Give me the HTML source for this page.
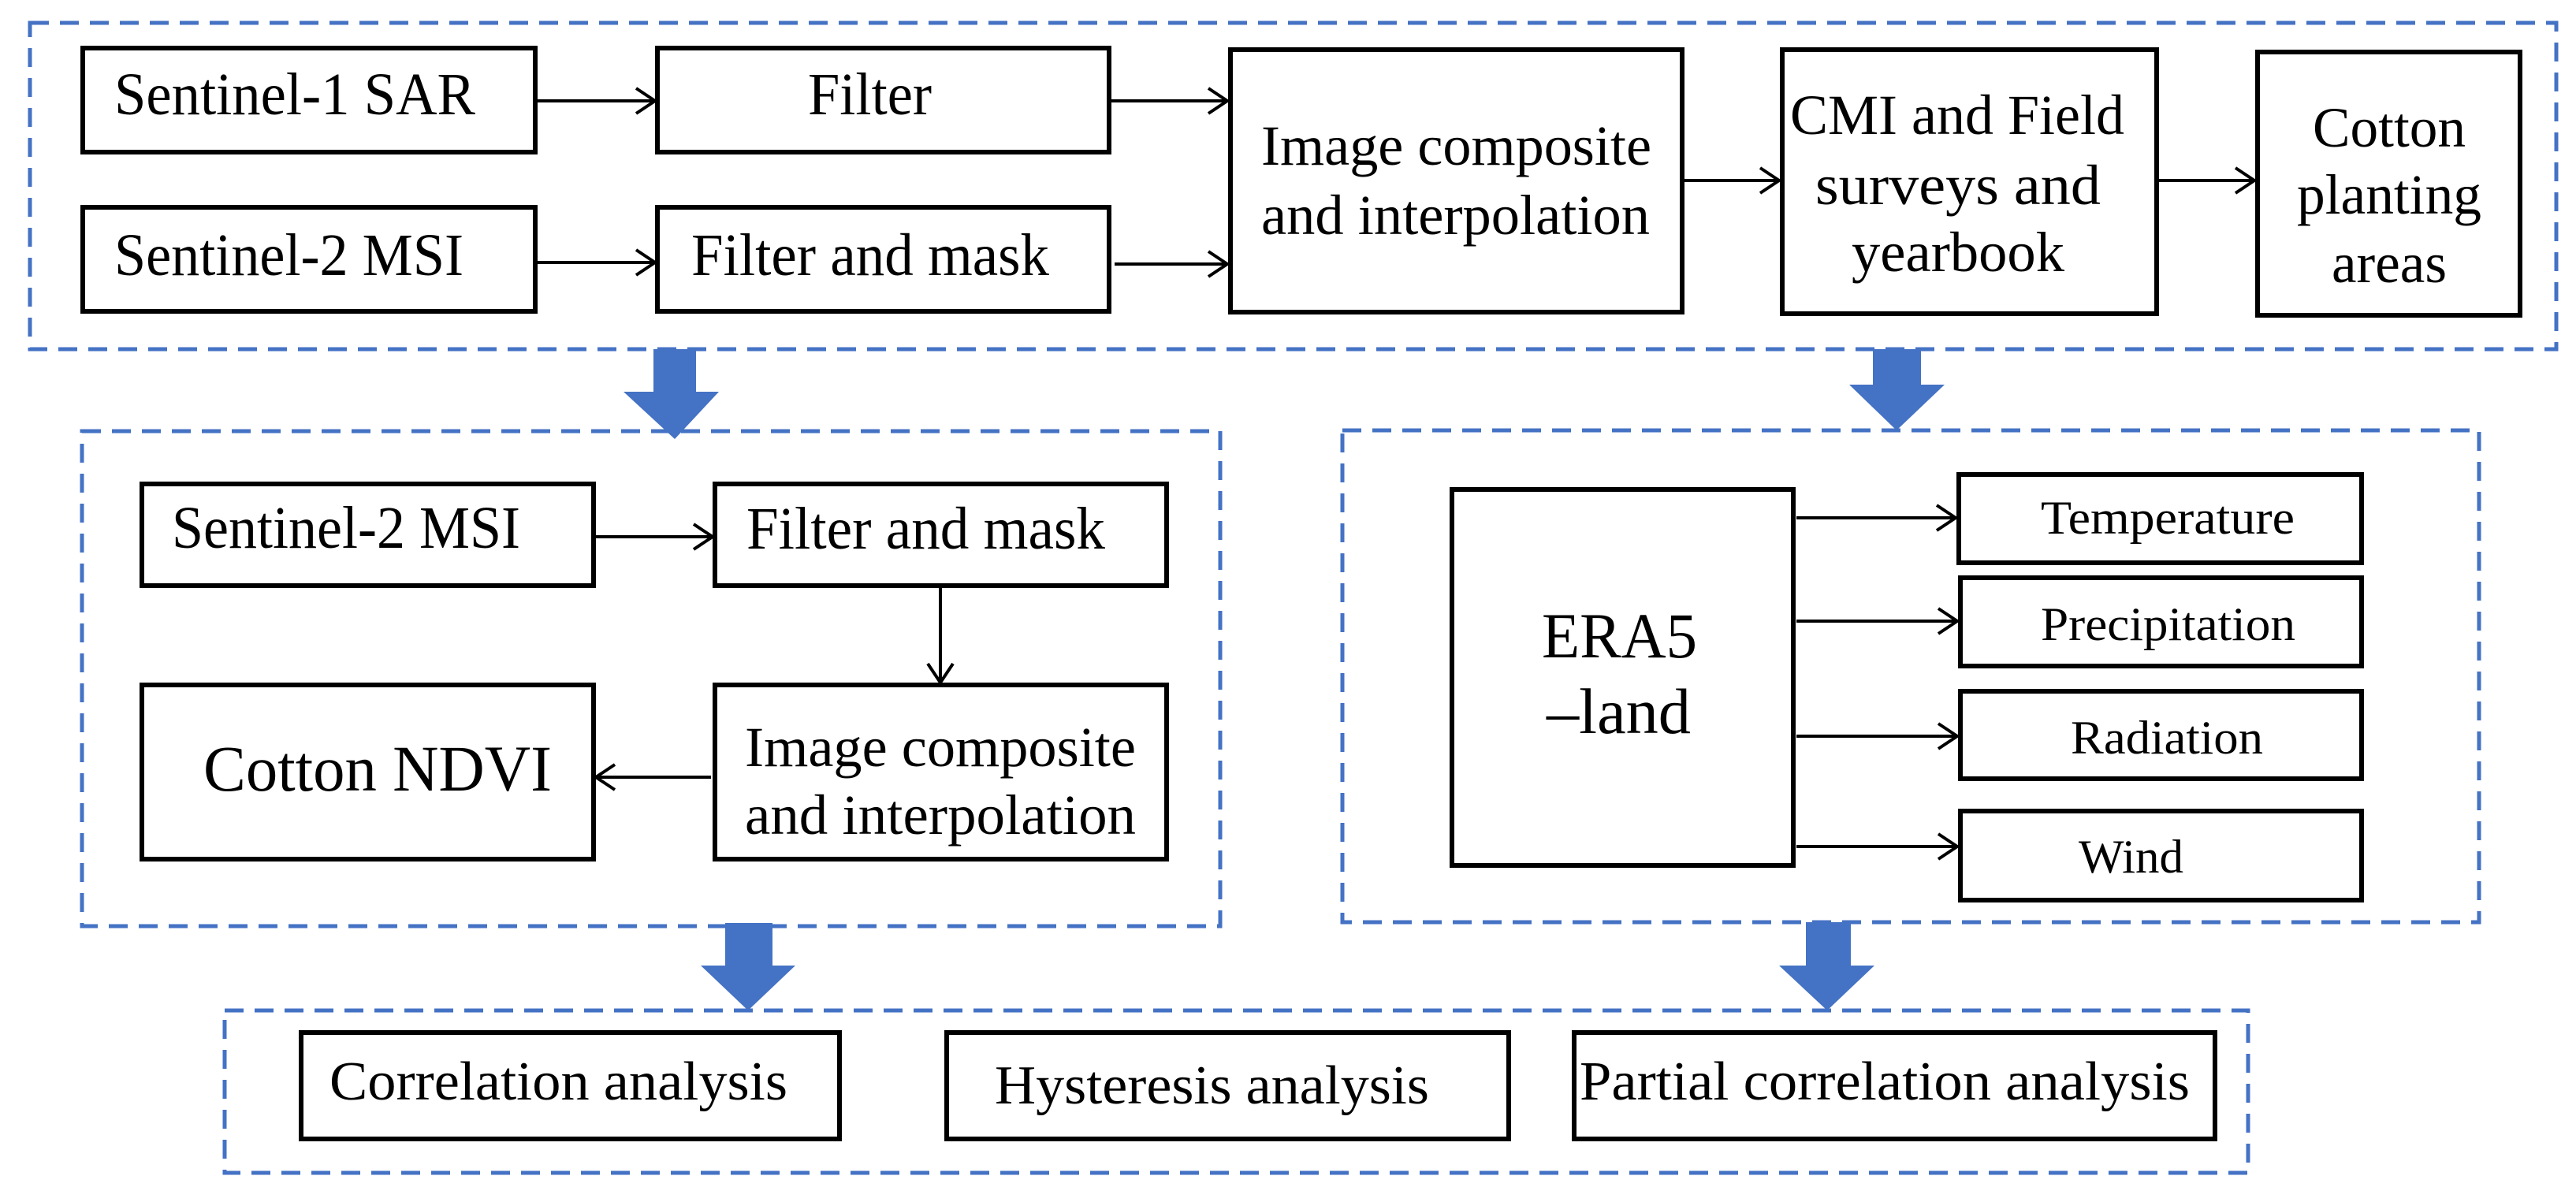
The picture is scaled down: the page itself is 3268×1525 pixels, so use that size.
<!DOCTYPE html>
<html><head><meta charset="utf-8"><style>
html,body{margin:0;padding:0;background:#fff;}
svg{display:block}
svg text{font-family:"Liberation Serif","Times New Roman",serif !important;fill:#000;}
</style></head><body>
<svg width="3268" height="1525" viewBox="0 0 3268 1525" xmlns="http://www.w3.org/2000/svg" font-family="'Liberation Serif', serif">
<defs>
<marker id="ah" markerWidth="40" markerHeight="40" refX="30" refY="20" orient="auto" markerUnits="userSpaceOnUse">
<path d="M6,4 L30,20 L6,36" fill="none" stroke="#000" stroke-width="4"/>
</marker>
</defs>
<g fill="none" stroke="#4472C4" stroke-width="5" stroke-dasharray="24,14">
<rect x="38" y="29" width="3205" height="414"/>
<rect x="104" y="547" width="1444" height="628"/>
<rect x="1703" y="546" width="1442" height="624"/>
<rect x="285" y="1282" width="2567" height="206"/>
</g>
<g fill="#4472C4">
<polygon points="829,443 883,443 883,497 912,497 856,557 791,497 829,497"/>
<polygon points="2376,443 2437,443 2437,488 2467,488 2406,546 2346,488 2376,488"/>
<polygon points="920,1171 980,1171 980,1225 1009,1225 949,1282 889,1225 920,1225"/>
<polygon points="2291,1170 2348,1170 2348,1225 2378,1225 2318,1282 2257,1225 2291,1225"/>
</g>
<g fill="#fff" stroke="#000" stroke-width="6">
<rect x="105" y="61" width="574" height="132"/>
<rect x="105" y="263" width="574" height="132"/>
<rect x="834" y="61" width="573" height="132"/>
<rect x="834" y="263" width="573" height="132"/>
<rect x="1561" y="63" width="573" height="333"/>
<rect x="2261" y="63" width="475" height="335"/>
<rect x="2864" y="66" width="333" height="334"/>
<rect x="180" y="614" width="573" height="129"/>
<rect x="907" y="614" width="573" height="129"/>
<rect x="180" y="869" width="573" height="221"/>
<rect x="907" y="869" width="573" height="221"/>
<rect x="1842" y="621" width="433" height="477"/>
<rect x="2485" y="602" width="511" height="112"/>
<rect x="2487" y="733" width="509" height="112"/>
<rect x="2487" y="877" width="509" height="111"/>
<rect x="2487" y="1029" width="509" height="113"/>
<rect x="382" y="1310" width="683" height="135"/>
<rect x="1201" y="1310" width="713" height="135"/>
<rect x="1997" y="1310" width="813" height="135"/>
</g>
<g stroke="#000" stroke-width="4" marker-end="url(#ah)">
<line x1="682" y1="128" x2="831" y2="128"/>
<line x1="682" y1="333" x2="831" y2="333"/>
<line x1="1410" y1="128" x2="1557" y2="128"/>
<line x1="1414" y1="335" x2="1557" y2="335"/>
<line x1="2137" y1="229" x2="2257" y2="229"/>
<line x1="2739" y1="229" x2="2860" y2="229"/>
<line x1="756" y1="681" x2="904" y2="681"/>
<line x1="1193" y1="746" x2="1193" y2="866"/>
<line x1="902" y1="986" x2="756" y2="986"/>
<line x1="2279" y1="657" x2="2481" y2="657"/>
<line x1="2279" y1="788" x2="2483" y2="788"/>
<line x1="2279" y1="934" x2="2483" y2="934"/>
<line x1="2279" y1="1074" x2="2483" y2="1074"/>
</g>
<g font-size="76" font-family="'Liberation Serif', serif">
<text x="145" y="145" textLength="458" lengthAdjust="spacingAndGlyphs">Sentinel-1 SAR</text>
<text x="145" y="349" textLength="443" lengthAdjust="spacingAndGlyphs">Sentinel-2 MSI</text>
<text x="1025" y="145" textLength="157" lengthAdjust="spacingAndGlyphs">Filter</text>
<text x="877" y="349" textLength="454" lengthAdjust="spacingAndGlyphs">Filter and mask</text>
<text x="218" y="695" textLength="442" lengthAdjust="spacingAndGlyphs">Sentinel-2 MSI</text>
<text x="947" y="696" textLength="455" lengthAdjust="spacingAndGlyphs">Filter and mask</text>
</g>
<g font-size="72" font-family="'Liberation Serif', serif">
<text x="1600" y="209" textLength="495" lengthAdjust="spacingAndGlyphs">Image composite</text>
<text x="1600" y="297" textLength="493" lengthAdjust="spacingAndGlyphs">and interpolation</text>
<text x="2271" y="170" textLength="424" lengthAdjust="spacingAndGlyphs">CMI and Field</text>
<text x="2303" y="259" textLength="362" lengthAdjust="spacingAndGlyphs">surveys  and</text>
<text x="2349" y="344" textLength="270" lengthAdjust="spacingAndGlyphs">yearbook</text>
<text x="2934" y="186" textLength="194" lengthAdjust="spacingAndGlyphs">Cotton</text>
<text x="2914" y="271" textLength="234" lengthAdjust="spacingAndGlyphs">planting</text>
<text x="2958" y="358" textLength="146" lengthAdjust="spacingAndGlyphs">areas</text>
<text x="945" y="972" textLength="496" lengthAdjust="spacingAndGlyphs">Image composite</text>
<text x="945" y="1058" textLength="496" lengthAdjust="spacingAndGlyphs">and interpolation</text>
</g>
<g font-family="'Liberation Serif', serif">
<text x="258" y="1003" font-size="83" textLength="442" lengthAdjust="spacingAndGlyphs">Cotton NDVI</text>
<text x="1956" y="834" font-size="82" textLength="197" lengthAdjust="spacingAndGlyphs">ERA5</text>
<text x="1962" y="930" font-size="82" textLength="183" lengthAdjust="spacingAndGlyphs">–land</text>
</g>
<g font-size="60" font-family="'Liberation Serif', serif">
<text x="2589" y="677" textLength="322" lengthAdjust="spacingAndGlyphs">Temperature</text>
<text x="2589" y="812" textLength="323" lengthAdjust="spacingAndGlyphs">Precipitation</text>
<text x="2627" y="956" textLength="244" lengthAdjust="spacingAndGlyphs">Radiation</text>
<text x="2637" y="1107" textLength="133" lengthAdjust="spacingAndGlyphs">Wind</text>
</g>
<g font-size="70" font-family="'Liberation Serif', serif">
<text x="418" y="1395" textLength="581" lengthAdjust="spacingAndGlyphs">Correlation analysis</text>
<text x="1262" y="1400" textLength="551" lengthAdjust="spacingAndGlyphs">Hysteresis analysis</text>
<text x="2004" y="1395" textLength="774" lengthAdjust="spacingAndGlyphs">Partial correlation analysis</text>
</g>
</svg>
</body></html>
